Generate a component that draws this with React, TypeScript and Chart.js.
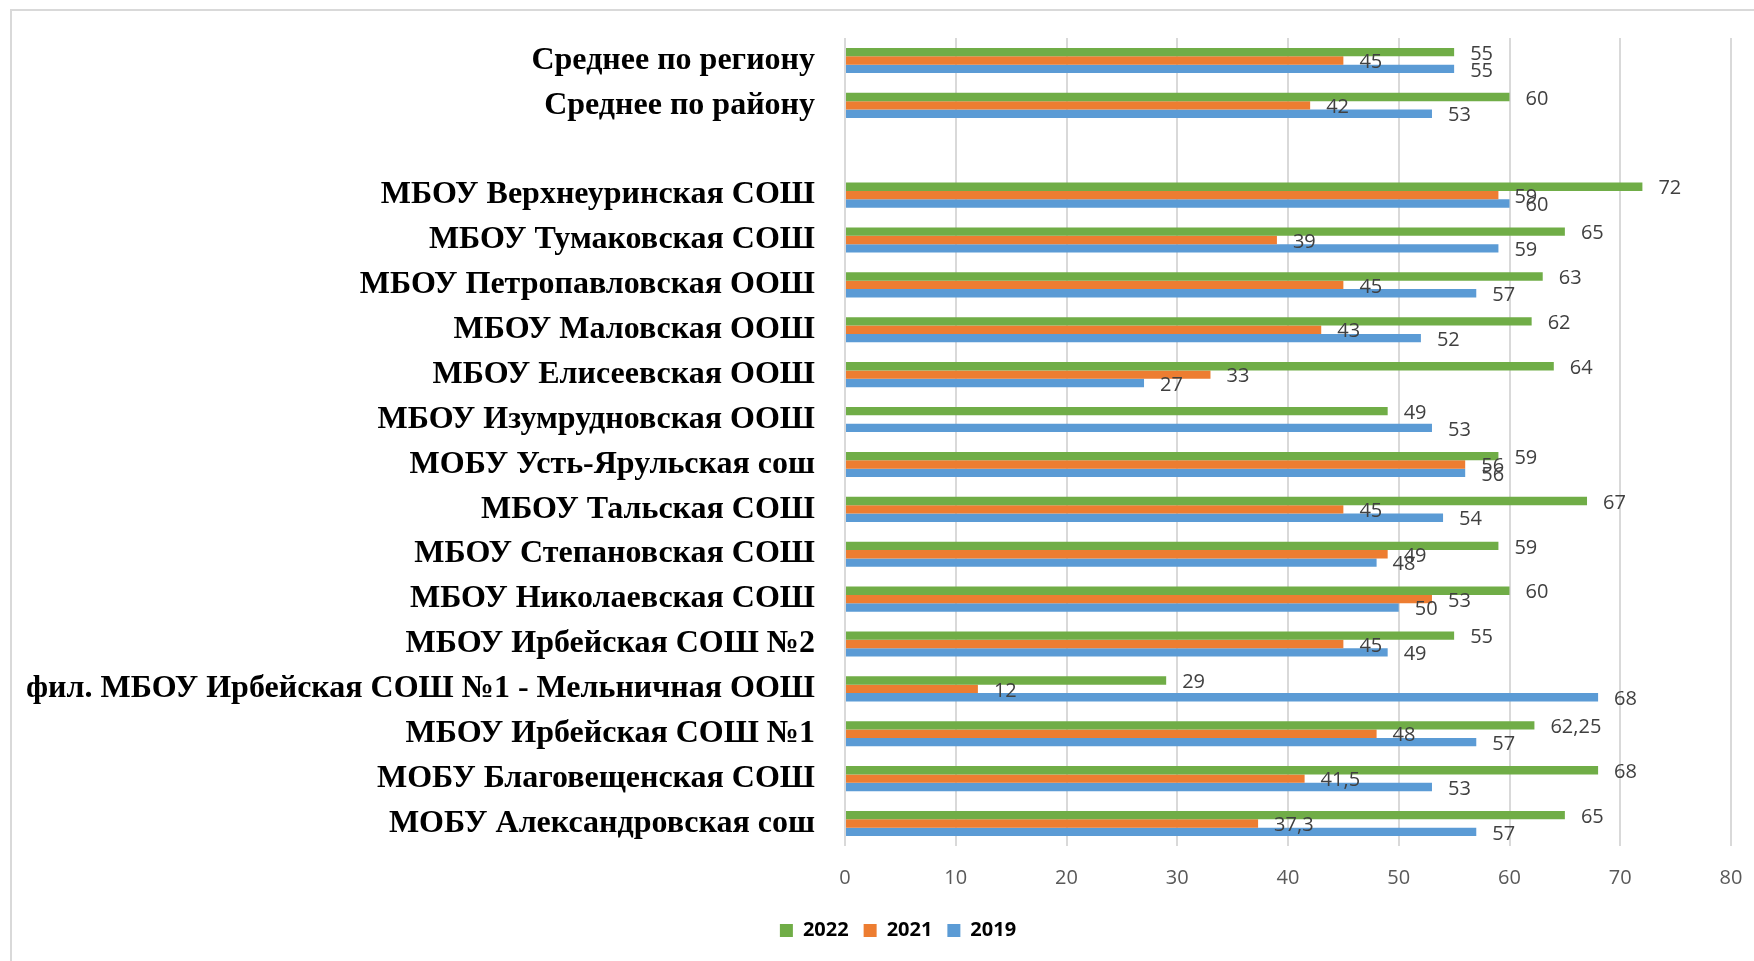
import React, { useEffect, useRef } from "react";
import { Chart, registerables } from "chart.js";

Chart.register(...registerables);

const categories: string[] = [
  "Среднее по региону",
  "Среднее по району",
  "",
  "МБОУ Верхнеуринская СОШ",
  "МБОУ Тумаковская СОШ",
  "МБОУ Петропавловская ООШ",
  "МБОУ Маловская ООШ",
  "МБОУ Елисеевская ООШ",
  "МБОУ Изумрудновская ООШ",
  "МОБУ Усть-Ярульская сош",
  "МБОУ Тальская СОШ",
  "МБОУ Степановская СОШ",
  "МБОУ Николаевская СОШ",
  "МБОУ Ирбейская СОШ №2",
  "фил. МБОУ Ирбейская СОШ №1 - Мельничная ООШ",
  "МБОУ Ирбейская СОШ №1",
  "МОБУ Благовещенская СОШ",
  "МОБУ Александровская сош",
];

const values2022: (number | null)[] = [55, 60, null, 72, 65, 63, 62, 64, 49, 59, 67, 59, 60, 55, 29, 62.25, 68, 65];
const values2021: (number | null)[] = [45, 42, null, 59, 39, 45, 43, 33, null, 56, 45, 49, 53, 45, 12, 48, 41.5, 37.3];
const values2019: (number | null)[] = [55, 53, null, 60, 59, 57, 52, 27, 53, 56, 54, 48, 50, 49, 68, 57, 53, 57];

const seriesNames: string[] = ["2022", "2021", "2019"];
const seriesColors: string[] = ["#70AD47", "#ED7D31", "#5B9BD5"];

const xMin = 0;
const xMax = 80;
const xStep = 10;

const CANVAS_W = 1796;
const CANVAS_H = 961;

const valueLabelPlugin = {
  id: "valueLabels",
  afterDatasetsDraw(chart: any) {
    const ctx = chart.ctx;
    ctx.save();
    ctx.font = "20px 'Open Sans', sans-serif";
    ctx.fillStyle = "#404040";
    ctx.textAlign = "left";
    ctx.textBaseline = "middle";
    chart.data.datasets.forEach((ds: any, di: number) => {
      const meta = chart.getDatasetMeta(di);
      meta.data.forEach((el: any, i: number) => {
        const v = ds.data[i];
        if (v === null || v === undefined) return;
        const txt = String(v).replace(".", ",");
        ctx.fillText(txt, el.x + 16, el.y + 2);
      });
    });
    ctx.restore();
  },
};

export default function App() {
  const ref = useRef<HTMLCanvasElement | null>(null);

  useEffect(() => {
    if (!ref.current) return;
    const chart = new Chart(ref.current, {
      type: "bar",
      data: {
        labels: categories,
        datasets: [
          { label: seriesNames[0], data: values2022, backgroundColor: seriesColors[0] },
          { label: seriesNames[1], data: values2021, backgroundColor: seriesColors[1] },
          { label: seriesNames[2], data: values2019, backgroundColor: seriesColors[2] },
        ],
      },
      options: {
        indexAxis: "y",
        responsive: false,
        devicePixelRatio: 1,
        animation: false,
        datasets: {
          bar: { barPercentage: 1, categoryPercentage: 0.56, borderWidth: 0 },
        },
        layout: { padding: { top: 38, left: 0, right: 0, bottom: 10.5 } },
        plugins: {
          tooltip: { enabled: false },
          legend: {
            position: "bottom",
            labels: {
              boxWidth: 13,
              boxHeight: 13,
              padding: 15,
              color: "#000000",
              font: { family: "'Open Sans', sans-serif", size: 20, weight: "bold" },
            },
          },
        },
        scales: {
          x: {
            min: xMin,
            max: xMax,
            ticks: {
              stepSize: xStep,
              color: "#595959",
              padding: 20,
              font: { family: "'Open Sans', sans-serif", size: 20 },
            },
            grid: { color: "#d9d9d9", lineWidth: 2, drawTicks: false },
            border: { display: false },
            afterFit: (scale: any) => {
              scale.height = 59.5;
              scale.paddingRight = 65;
            },
          },
          y: {
            ticks: {
              autoSkip: false,
              color: "#000000",
              padding: 30,
              font: { family: "'Liberation Serif', 'Times New Roman', serif", size: 32, weight: "bold" },
            },
            grid: { display: false, drawTicks: false },
            border: { display: false },
            afterFit: (scale: any) => {
              scale.width = 845;
              scale.paddingTop = 0;
              scale.paddingBottom = 0;
            },
          },
        },
      },
      plugins: [valueLabelPlugin],
    });
    return () => chart.destroy();
  }, []);

  return (
    <div>
      <div
        style={{
          position: "fixed",
          left: 10,
          top: 9,
          width: 1800,
          height: 1000,
          border: "2px solid #d9d9d9",
          boxSizing: "border-box",
        }}
      />
      <canvas
        ref={ref}
        width={CANVAS_W}
        height={CANVAS_H}
        style={{ position: "fixed", left: 0, top: 0, width: CANVAS_W, height: CANVAS_H }}
      />
    </div>
  );
}
